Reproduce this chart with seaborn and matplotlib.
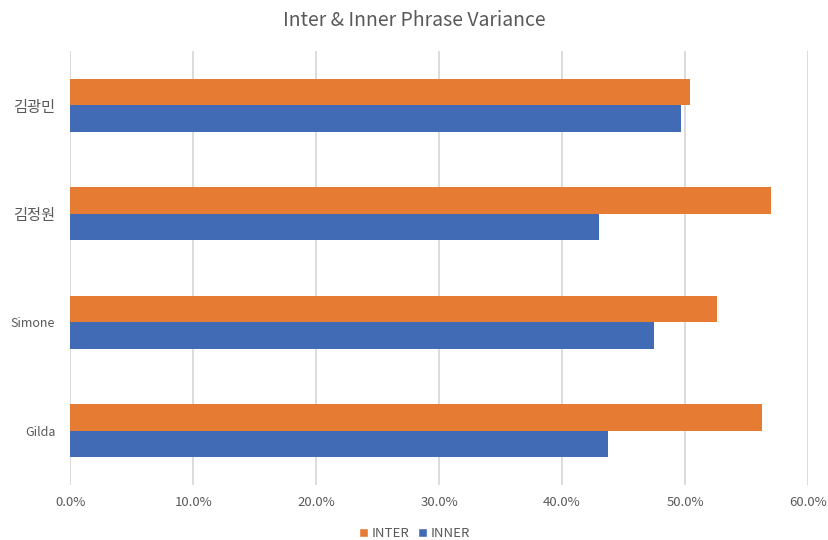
import matplotlib
matplotlib.use("Agg")
import matplotlib.pyplot as plt
from matplotlib.ticker import FuncFormatter, MultipleLocator
from matplotlib.patches import Patch
import pandas as pd
import seaborn as sns

performers = ["김광민", "김정원", "Simone", "Gilda"]
inter_values = [50.4, 57.0, 52.6, 56.3]
inner_values = [49.7, 43.0, 47.5, 43.7]
series_names = ["INTER", "INNER"]
series_colors = ["#E67C34", "#416BB5"]

df = pd.DataFrame({
    "performer": performers * 2,
    "variance": inter_values + inner_values,
    "series": [series_names[0]] * len(performers) + [series_names[1]] * len(performers),
})

sns.set_theme(style="white")
plt.rcParams["font.family"] = ["Noto Sans CJK KR", "DejaVu Sans"]
text_color = "#595959"

fig = plt.figure(figsize=(8.29, 5.40), dpi=100)
ax = fig.add_axes([0.085, 0.102, 0.8896, 0.8037])

sns.barplot(
    data=df, x="variance", y="performer", hue="series",
    hue_order=series_names, order=performers,
    palette=series_colors, orient="h", width=0.49,
    saturation=1, linewidth=0, ax=ax, legend=False,
)

ax.set_xlim(0, 60)
ax.xaxis.set_major_locator(MultipleLocator(10))
ax.xaxis.set_major_formatter(FuncFormatter(lambda v, _: f"{v:.1f}%"))
ax.grid(axis="x", color="#D9D9D9", linewidth=1.3)
ax.set_axisbelow(True)
for s in ax.spines.values():
    s.set_visible(False)
ax.set_xlabel("")
ax.set_ylabel("")
ax.tick_params(axis="x", length=0, pad=8, labelsize=9.5, labelcolor=text_color)
ax.tick_params(axis="y", length=0, pad=11, labelsize=10, labelcolor=text_color)
for lbl in ax.get_yticklabels():
    if lbl.get_text() in ("Simone", "Gilda"):
        lbl.set_fontsize(9)
    else:
        lbl.set_fontsize(11)

fig.suptitle("Inter & Inner Phrase Variance", y=0.982, fontsize=14, color=text_color)

handles = [Patch(facecolor=c, label=n) for c, n in zip(series_colors, series_names)]
fig.legend(handles=handles, loc="lower center", bbox_to_anchor=(0.5, -0.022), ncol=2,
           frameon=False, fontsize=9.5, labelcolor=text_color,
           handlelength=0.7, handleheight=0.7, handletextpad=0.3, columnspacing=0.6)

fig.savefig("out.png", dpi=100)
